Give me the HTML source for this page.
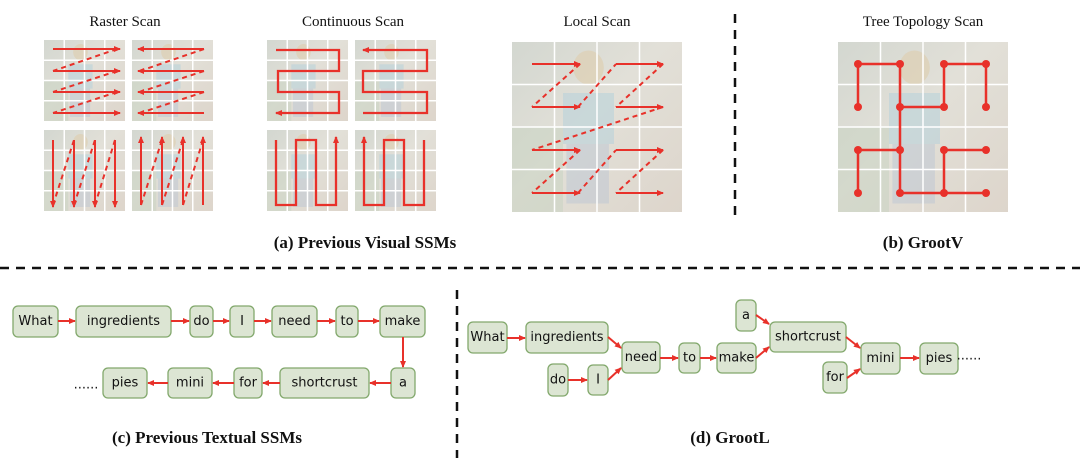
<!DOCTYPE html>
<html><head><meta charset="utf-8">
<style>
html,body{margin:0;padding:0;background:#fff;}
svg{display:block;}
.t{font-family:"Liberation Serif",serif;font-size:15px;fill:#111;text-anchor:middle;}
.c{font-family:"Liberation Serif",serif;font-size:17px;font-weight:bold;fill:#111;text-anchor:middle;}
.w{font-family:"DejaVu Sans","Liberation Sans",sans-serif;font-size:13px;fill:#111;text-anchor:middle;dominant-baseline:central;}
.box{fill:#dce5d3;stroke:#82a86c;stroke-width:1.3;}
</style></head><body>
<svg id="s" width="1080" height="458" viewBox="0 0 1080 458" xmlns="http://www.w3.org/2000/svg">
<defs>
<marker id="ah" markerWidth="8" markerHeight="8" refX="6" refY="3" orient="auto" markerUnits="userSpaceOnUse"><path d="M0,0 L7,3 L0,6 z" fill="#e8312a"/></marker>
<linearGradient id="ph" x1="0" y1="0" x2="1" y2="1">
<stop offset="0" stop-color="#d3d7d0"/><stop offset="0.45" stop-color="#e2e0d8"/><stop offset="1" stop-color="#ddd5cb"/></linearGradient>
</defs>
<text class="t" x="125" y="26">Raster Scan</text>
<text class="t" x="353" y="26">Continuous Scan</text>
<text class="t" x="597" y="26">Local Scan</text>
<text class="t" x="923" y="26">Tree Topology Scan</text>
<text class="c" x="365" y="248">(a) Previous Visual SSMs</text>
<text class="c" x="923" y="248">(b) GrootV</text>
<text class="c" x="207" y="443">(c) Previous Textual SSMs</text>
<text class="c" x="730" y="443">(d) GrootL</text>
<line x1="735" y1="14" x2="735" y2="220" stroke="#111" stroke-width="2.5" stroke-dasharray="9,7"/>
<line x1="0" y1="268" x2="1080" y2="268" stroke="#111" stroke-width="2.5" stroke-dasharray="9,7"/>
<line x1="457" y1="290" x2="457" y2="458" stroke="#111" stroke-width="2.5" stroke-dasharray="9,7"/>
<g id="g"></g>
</svg>
<script>
var g=document.getElementById('g'),NS='http://www.w3.org/2000/svg';
function el(n,a,txt){var e=document.createElementNS(NS,n);for(var k in a)e.setAttribute(k,a[k]);if(txt!==undefined)e.textContent=txt;g.appendChild(e);return e;}
function img(x,y,s){
 el('rect',{x:x,y:y,width:s,height:s,fill:'url(#ph)'});
 el('rect',{x:x+s*0.3,y:y+s*0.3,width:s*0.3,height:s*0.3,fill:'#b9d2da',opacity:0.6});
 el('rect',{x:x+s*0.32,y:y+s*0.6,width:s*0.25,height:s*0.35,fill:'#bcc6d4',opacity:0.5});
 el('rect',{x:x,y:y+s*0.5,width:s*0.3,height:s*0.5,fill:'#c6d2bf',opacity:0.5});
 el('ellipse',{cx:x+s*0.45,cy:y+s*0.15,rx:s*0.09,ry:s*0.1,fill:'#ddd1b6',opacity:0.8});
 for(var i=1;i<4;i++){el('line',{x1:x+s*i/4,y1:y,x2:x+s*i/4,y2:y+s,stroke:'#fff','stroke-width':1.5});el('line',{x1:x,y1:y+s*i/4,x2:x+s,y2:y+s*i/4,stroke:'#fff','stroke-width':1.5});}
}
function L(x1,y1,x2,y2,d,a){var o={x1:x1,y1:y1,x2:x2,y2:y2,stroke:'#e8312a','stroke-width':2};if(d)o['stroke-dasharray']='5,4';if(a)o['marker-end']='url(#ah)';el('line',o);}
function P(pts){el('polyline',{points:pts,fill:'none',stroke:'#e8312a','stroke-width':2.3,'marker-end':'url(#ah)'});}
[[44,40],[132,40],[44,130],[132,130],[267,40],[355,40],[267,130],[355,130]].forEach(function(p){img(p[0],p[1],81);});
img(512,42,170);img(838,42,170);
var ry=[49,71,92,113];
ry.forEach(function(y,i){L(53,y,120,y,0,1);L(204,y,138,y,0,1);if(i<3){L(117,y,53,ry[i+1],1);L(204,y,140,ry[i+1],1);}});
var rx=[53,74,95,115];
rx.forEach(function(x,i){L(x,140,x,207,0,1);L(x+88,205,x+88,137,0,1);if(i<3){L(x,205,rx[i+1],140,1);L(x+88,205,rx[i+1]+88,140,1);}});
P('276,50 339,50 339,71 278,71 278,92 339,92 339,113 276,113');
P('363,113 427,113 427,92 363,92 363,71 427,71 427,50 363,50');
P('276,140 276,205 296,205 296,140 316,140 316,205 336,205 336,137');
P('424,140 424,205 404,205 404,140 384,140 384,205 364,205 364,137');
[[64,107],[150,193]].forEach(function(r){[[532,580],[616,663]].forEach(function(c){L(c[0],r[0],c[1],r[0],0,1);L(c[1],r[0],c[0],r[1],1);L(c[0],r[1],c[1],r[1],0,1);});L(578,r[1],616,r[0],1);});
L(663,107,532,150,1);
var E=[[858,64,900,64],[858,64,858,107],[900,64,900,193],[900,107,944,107],[944,107,944,64],[944,64,986,64],[986,64,986,107],[858,150,900,150],[858,150,858,193],[900,193,986,193],[944,193,944,150],[944,150,986,150]];
E.forEach(function(e){el('line',{x1:e[0],y1:e[1],x2:e[2],y2:e[3],stroke:'#e8312a','stroke-width':2.5});});
[[858,64],[900,64],[944,64],[986,64],[858,107],[900,107],[944,107],[986,107],[858,150],[900,150],[944,150],[986,150],[858,193],[900,193],[944,193],[986,193]].forEach(function(p){el('circle',{cx:p[0],cy:p[1],r:4,fill:'#e8312a'});});
function B(t,x1,y1,x2,y2){el('rect',{x:x1,y:y1,width:x2-x1,height:y2-y1,rx:5,class:'box'});el('text',{x:(x1+x2)/2,y:(y1+y2)/2,class:'w'},t);}
var c1=[['What',13,58],['ingredients',76,171],['do',190,213],['I',230,254],['need',272,317],['to',336,358],['make',380,425]];
c1.forEach(function(b,i){B(b[0],b[1],306,b[2],337);if(i<6)L(b[2],321,c1[i+1][1]-1,321,0,1);});
var c2=[['a',391,415],['shortcrust',280,369],['for',234,262],['mini',168,212],['pies',103,147]];
c2.forEach(function(b,i){B(b[0],b[1],368,b[2],398);if(i<4)L(b[1],383,c2[i+1][2]+1,383,0,1);});
L(403,337,403,367,0,1);
el('text',{x:86,y:385,class:'w','font-size':'11'},'......');
B('What',468,322,507,353);B('ingredients',526,322,608,353);B('need',622,342,660,373);B('do',548,364,568,396);B('I',588,365,608,395);
B('to',679,343,700,373);B('make',717,343,756,373);B('a',736,300,756,331);B('shortcrust',770,322,846,352);B('for',823,362,847,393);B('mini',861,343,900,374);B('pies',920,343,958,374);
L(507,338,525,338,0,1);L(608,337,621,348,0,1);L(568,380,587,380,0,1);L(608,380,621,368,0,1);L(660,358,678,358,0,1);L(700,358,716,358,0,1);
L(756,358,769,347,0,1);L(756,315,769,324,0,1);L(846,337,860,348,0,1);L(847,378,860,369,0,1);L(900,358,919,358,0,1);
el('text',{x:969,y:356,class:'w','font-size':'11'},'......');
</script>
</body></html>
